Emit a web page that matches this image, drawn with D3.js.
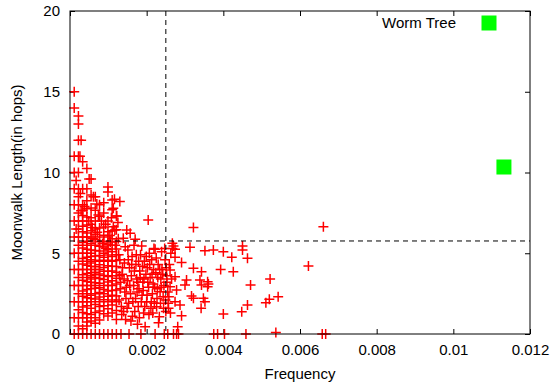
<!DOCTYPE html>
<html>
<head>
<meta charset="utf-8">
<script src="https://cdn.jsdelivr.net/npm/d3@7"></script>
<style>
  body { margin: 0; background: #fff; }
  text { font-family: "Liberation Sans", Arial, sans-serif; font-size: 15px; fill: #000; }
</style>
</head>
<body>
<svg id="chart" width="555" height="384"></svg>
<script>
// low frequencies come in discrete steps, so lengths line up in columns
const lowFreqColumns = [
    [0.00011, [0,1,2,3,4,5,6,7,8,9,10,11,14,15]],
    [0.00022, [0,0.5,1,1.5,2,2.5,3,3.5,4,4.5,5,5.5,6,6.5,7,7.5,8,8.5,9,10,11,12,13,13.5]],
    [0.00033, [0,0.33,1,1.33,1.67,2,2.33,2.67,3,3.33,3.67,4,4.33,4.67,5,5.33,5.67,6,6.33,6.67,7,7.33,7.67,8,9,10.67]],
    [0.00044, [0,0.5,0.75,1,1.25,1.75,2,2.25,2.5,2.75,3,3.25,3.5,3.75,4,4.25,4.5,4.75,5,5.25,5.5,5.75,6,6.25,6.75,7.25,7.75,8.25,9,10.25]],
    [0.00055, [0,0.8,1.2,1.6,2,2.2,2.4,2.8,3,3.2,3.4,3.6,3.8,4,4.2,4.4,4.6,4.8,5,5.2,5.6,6,6.4,6.8,7.2,7.8,8.6,9.6]],
    [0.00066, [0,0.67,1,1.33,1.83,2.17,2.5,2.83,3,3.17,3.5,3.67,3.83,4,4.17,4.5,4.83,5.17,5.5,5.83,6.17,6.5,7,7.67,8.5]],
    [0.00077, [0,0.86,1.43,1.71,2,2.29,2.57,2.86,3.14,3.43,3.71,4,4.29,4.57,4.86,5.14,5.43,5.71,6,6.57,7.29,8]],
    [0.00088, [0,1.25,1.75,2.12,2.5,2.75,3,3.38,3.62,3.88,4.12,4.5,4.75,5,5.38,5.75,6.12,6.62,7.5,8.12]],
    [0.00099, [0,1.11,1.56,2,2.33,2.67,3,3.22,3.56,3.89,4.22,4.56,4.89,5.22,5.56,6,6.33,7,8.8,9.1]],
    [0.0011, [0,1.3,1.8,2.1,2.4,2.7,3,3.3,3.6,3.9,4.2,4.5,4.8,5.1,5.5,5.9,6.4,7.7,8.3]],
    [0.00121, [0,0.9,1.45,2,2.36,2.73,3.09,3.45,3.82,4.18,4.55,4.91,5.27,5.73,6.45,7.3]]
];

// [frequency, moonwalk length]
const scatteredWalks = [
    [0.0005,9.6],[0.00061,8.5],[0.0007,8.05],[0.00074,7.37],[0.00113,7.78],[0.00116,8.34],[0.0013,8.2],
    [0.00113,6.64],[0.00117,6.44],[0.00029,7.63],[0.00122,7.3],[0.00029,12],[0.00026,11],
    [0.00016,9.5],[0.00016,6.5],[0.00027,8.7],[0.00038,7.9],[0.00049,7.0],[0.00058,6.6],[0.0006,5.9],
    [0.00071,6.3],[0.00082,7.0],[0.00085,5.6],[0.00093,6.8],[0.00094,5.3],[0.00104,6.1],[0.00105,5.7],
    [0.00108,7.2],[0.00118,5.5],[0.00126,5.9],[0.00127,4.9],[0.00129,3.6],[0.00131,2.8],[0.00135,1.2],
    [0.00137,4.1],[0.00141,3.4],[0.00144,5.4],[0.00146,2.2],[0.00149,1.6],[0.00152,4.6],[0.00156,3.0],
    [0.00159,0.8],[0.00161,4.3],[0.00164,2.0],[0.00168,3.9],[0.00169,1.4],[0.00173,4.9],[0.00175,2.6],
    [0.00177,3.2],[0.00179,4.5],[0.00181,1.0],[0.00183,3.5],[0.00186,2.0],[0.00189,4.2],[0.00191,2.7],
    [0.00193,3.4],[0.00195,1.7],[0.00199,4.8],[0.00201,2.4],[0.00203,3.2],[0.00206,1.2],[0.00208,4.3],
    [0.00212,2.0],[0.00214,3.7],[0.00216,1.3],[0.00218,4.0],[0.00221,2.9],[0.00225,4.7],[0.00227,2.2],
    [0.00229,3.5],[0.00231,0.7],[0.00234,4.0],[0.00236,1.9],[0.00238,2.9],[0.00242,3.7],[0.00244,1.6],
    [0.00247,5.3],[0.00249,2.1],[0.00251,4.1],[0.00253,3.2],[0.00258,2.3],[0.00262,1.3],[0.00265,3.4],
    [0.00125,6.9],[0.00128,2.1],[0.0013,4.6],[0.00132,3.2],[0.00133,0],[0.00134,1.7],[0.00136,3.7],
    [0.00139,5.93],[0.0014,1.4],[0.00142,4.4],[0.00143,2.6],[0.00145,0.9],[0.00147,2.9],[0.00148,6.44],
    [0.0015,3.3],[0.00151,5.2],[0.00153,1.9],[0.00154,0],[0.00155,4.1],[0.00157,6.24],[0.00158,2.5],
    [0.0016,3.6],[0.00162,4.8],[0.00163,1.1],[0.00166,3.0],[0.00167,5.5],[0.0017,5.86],[0.00171,2.2],
    [0.00172,4.3],[0.00174,3.4],[0.00176,0.6],[0.00178,1.7],[0.0018,2.8],[0.00182,3.9],[0.00184,4.9],
    [0.00185,0],[0.00187,5.45],[0.00188,2.4],[0.0019,3.2],[0.00192,1.3],[0.00194,4.5],[0.00196,0.45],
    [0.00198,3.7],[0.002,2.0],[0.00202,4.1],[0.00204,7.06],[0.00205,2.9],[0.00207,5.0],[0.00209,3.5],
    [0.00211,1.6],[0.00213,4.6],[0.00215,2.5],[0.00217,3.1],[0.00219,5.3],[0.0022,1.9],[0.00222,5.24],
    [0.00222,0],[0.00224,3.8],[0.00226,1.69],[0.00228,2.8],[0.0023,4.3],[0.00233,1.07],[0.00235,2.62],
    [0.00237,3.4],[0.00239,5.1],[0.0024,4.0],[0.00243,2.31],[0.00245,3.0],[0.00246,0],[0.00248,4.6],
    [0.0025,1.4],[0.00252,3.6],[0.00255,2.6],[0.00255,0],[0.00256,1.9],[0.00257,1.59],[0.00259,4.3],
    [0.00261,3.96],[0.00261,2.93],[0.00263,5.0],[0.00267,5.62],[0.00267,5.3],[0.0027,5.45],[0.0027,0],
    [0.00274,5.24],[0.00274,4.75],[0.00274,3.55],[0.00274,2.0],[0.00278,2.72],[0.00278,0],[0.00281,0.45],
    [0.00283,0],[0.00287,1.8],[0.00291,4.42],[0.00291,1.13],[0.00304,3.34],[0.003,3.03],[0.00313,5.37],
    [0.00317,2.35],[0.00322,2.21],[0.00322,6.6],[0.00322,4.07],[0.00339,3.34],[0.00343,3.03],[0.00343,3.86],
    [0.00342,1.59],[0.00348,2.21],[0.00352,2.0],[0.00352,5.16],[0.00359,3.24],[0.00359,2.93],[0.00361,3.1],
    [0.00374,5.2],[0.00375,0],[0.00385,0],[0.00393,4.0],[0.004,5.1],[0.004,1.24],[0.00403,0],
    [0.00422,4.75],[0.00426,3.86],[0.0045,5.45],[0.0045,5.2],[0.00448,1.38],[0.00459,0],[0.00463,4.69],
    [0.00463,1.8],[0.00471,3.03],[0.00511,1.94],[0.0052,2.15],[0.00522,3.41],[0.00537,0.1],[0.00543,2.31],
    [0.00622,4.21],[0.00658,0],[0.00661,6.64],[0.00667,0]
];

const wormTree = [[0.01132, 10.34]];
const freqThreshold = 0.0025;
const lengthThreshold = 5.76;

const xTicks = [0, 0.002, 0.004, 0.006, 0.008, 0.01, 0.012];
const yTicks = [0, 5, 10, 15, 20];

const walks = lowFreqColumns.flatMap(([f, lens]) => lens.map(l => [f, l])).concat(scatteredWalks);

const svg = d3.select("#chart"),
    width = +svg.attr("width"),
    height = +svg.attr("height"),
    margin = { top: 11, right: 25, bottom: 50, left: 70 },
    chartWidth = width - margin.left - margin.right,
    chartHeight = height - margin.top - margin.bottom;

const chart = svg.append("g")
    .attr("transform", `translate(${margin.left},${margin.top})`);

const x = d3.scaleLinear().domain([0, 0.012]).range([0, chartWidth]);
const y = d3.scaleLinear().domain([0, 20]).range([chartHeight, 0]);

// axes (gnuplot style: inward ticks mirrored on all sides)
const tickLen = 5;
chart.append("g")
    .attr("transform", `translate(0,${chartHeight})`)
    .call(d3.axisBottom(x).tickValues(xTicks).tickSize(-tickLen).tickPadding(10).tickFormat(d => d3.format("~g")(d)))
    .call(g => g.select(".domain").remove());
chart.append("g")
    .call(d3.axisTop(x).tickValues(xTicks).tickSize(-tickLen).tickFormat(""))
    .call(g => g.select(".domain").remove());
chart.append("g")
    .call(d3.axisLeft(y).tickValues(yTicks).tickSize(-tickLen).tickPadding(10))
    .call(g => g.select(".domain").remove());
chart.append("g")
    .attr("transform", `translate(${chartWidth},0)`)
    .call(d3.axisRight(y).tickValues(yTicks).tickSize(-tickLen).tickFormat(""))
    .call(g => g.select(".domain").remove());

chart.selectAll(".tick text")
    .style("font-family", '"Liberation Sans", Arial, sans-serif')
    .style("font-size", "15px")
    .attr("fill", "#000");
chart.selectAll(".tick line").attr("stroke", "#000");

// points
chart.append("g")
    .selectAll("path")
    .data(walks)
    .join("path")
    .attr("transform", d => `translate(${x(d[0])},${y(d[1])})`)
    .attr("d", "M-5,0H5M0,-5V5")
    .attr("stroke", "#ff0000")
    .attr("stroke-width", 1.5)
    .attr("fill", "none");

// threshold lines
chart.append("line")
    .attr("x1", x(freqThreshold)).attr("x2", x(freqThreshold))
    .attr("y1", 0).attr("y2", chartHeight)
    .attr("stroke", "#000").attr("stroke-dasharray", "5,4");
chart.append("line")
    .attr("x1", 0).attr("x2", chartWidth)
    .attr("y1", y(lengthThreshold)).attr("y2", y(lengthThreshold))
    .attr("stroke", "#000").attr("stroke-dasharray", "5,4");

// worm tree
const sq = 15;
chart.selectAll(".worm")
    .data(wormTree)
    .join("rect")
    .attr("class", "worm")
    .attr("x", d => x(d[0]) - sq / 2)
    .attr("y", d => y(d[1]) - sq / 2)
    .attr("width", sq)
    .attr("height", sq)
    .attr("fill", "#00ff00");

// frame
chart.append("rect")
    .attr("width", chartWidth)
    .attr("height", chartHeight)
    .attr("fill", "none")
    .attr("stroke", "#000");

// legend
const legend = chart.append("g");
legend.append("text")
    .attr("x", 386)
    .attr("y", 17)
    .attr("text-anchor", "end")
    .text("Worm Tree");
legend.append("rect")
    .attr("x", 419 - sq / 2)
    .attr("y", 12 - sq / 2)
    .attr("width", sq)
    .attr("height", sq)
    .attr("fill", "#00ff00");

// axis labels
svg.append("text")
    .attr("x", margin.left + chartWidth / 2)
    .attr("y", 379)
    .attr("text-anchor", "middle")
    .text("Frequency");

svg.append("text")
    .attr("transform", `translate(22,${margin.top + chartHeight / 2}) rotate(-90)`)
    .attr("text-anchor", "middle")
    .text("Moonwalk Length(in hops)");
</script>
</body>
</html>
